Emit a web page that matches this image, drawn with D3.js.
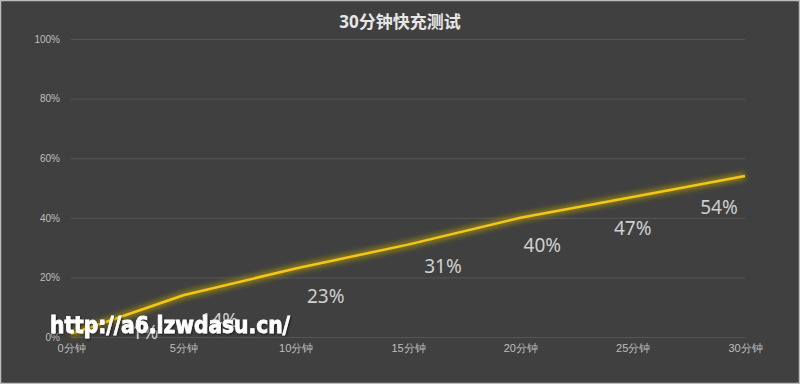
<!DOCTYPE html>
<html>
  <head>
    <meta charset="utf-8" />
    <style>
      body {
        margin: 0;
        background: #404040;
      }
      svg {
        display: block;
        font-family: "Noto Sans", "Noto Sans CJK SC", sans-serif;
      }
      .grid line {
        stroke: #555555;
        stroke-width: 1;
      }
      .grid .domain {
        display: none;
      }
      .y .tick text {
        font-size: 10px;
        fill: #bfbfbf;
      }
      .x .tick text {
        font-size: 11px;
        fill: #bfbfbf;
      }
      .x .domain,
      .y .domain,
      .x .tick line,
      .y .tick line {
        display: none;
      }
      .title {
        font-size: 17px;
        font-weight: bold;
        fill: #e6e6e6;
      }
      .label {
        font-size: 19px;
        fill: #cfcfcf;
      }
      .watermark {
        font-family: "DejaVu Sans", sans-serif;
        font-size: 23px;
        font-weight: bold;
        fill: #ffffff;
      }
    </style>
  </head>
  <body>
    <svg width="800" height="384"></svg>

    <script src="https://d3js.org/d3.v7.min.js"></script>
    <script>
      // data
      let minutes = ["0分钟", "5分钟", "10分钟", "15分钟", "20分钟", "25分钟", "30分钟"];
      let charge = [1, 14, 23, 31, 40, 47, 54];
      let yTicks = [0, 20, 40, 60, 80, 100];

      // the data labels are dragged around in the original, so nudge them
      let labelDx = [74, 36, 30, 35, 22, 0, -26];
      let labelDy = [5, 32, 35, 28, 34, 38, 38];

      let width = 800;
      let height = 384;
      let margin = { top: 39, right: 55, bottom: 47, left: 71 };

      let svg = d3.select("svg");

      // frame
      svg
        .append("rect")
        .attr("x", 0.5)
        .attr("y", 0.5)
        .attr("width", width - 1)
        .attr("height", height - 1)
        .attr("fill", "#404040")
        .attr("stroke", "#bdbdbd")
        .attr("stroke-width", 1.5);

      let x = d3
        .scalePoint()
        .domain(minutes)
        .range([margin.left, width - margin.right]);

      let y = d3
        .scaleLinear()
        .domain([0, 100])
        .range([height - margin.bottom, margin.top]);

      // gridlines
      svg
        .append("g")
        .attr("class", "grid")
        .attr("transform", `translate(${margin.left}, 0)`)
        .call(
          d3
            .axisLeft(y)
            .tickValues(yTicks)
            .tickSize(-(width - margin.right - margin.left))
            .tickFormat("")
        );

      svg
        .append("g")
        .attr("class", "y axis")
        .attr("transform", `translate(${margin.left}, 0)`)
        .call(
          d3
            .axisLeft(y)
            .tickValues(yTicks)
            .tickSize(0)
            .tickPadding(11)
            .tickFormat((d) => d + "%")
        );

      svg
        .append("g")
        .attr("class", "x axis")
        .attr("transform", `translate(0, ${height - margin.bottom})`)
        .call(d3.axisBottom(x).tickSize(0).tickPadding(7));

      // glow filter
      let defs = svg.append("defs");
      let filter = defs
        .append("filter")
        .attr("id", "glow")
        .attr("x", "-10%")
        .attr("y", "-50%")
        .attr("width", "120%")
        .attr("height", "200%");
      filter.append("feGaussianBlur").attr("stdDeviation", 2.5);

      let shadow = defs
        .append("filter")
        .attr("id", "shadow")
        .attr("x", "-5%")
        .attr("y", "-30%")
        .attr("width", "110%")
        .attr("height", "160%");
      shadow
        .append("feDropShadow")
        .attr("dx", 1)
        .attr("dy", 1)
        .attr("stdDeviation", 0.8)
        .attr("flood-color", "#000")
        .attr("flood-opacity", 0.6);

      let line = d3
        .line()
        .x((d, i) => x(minutes[i]))
        .y((d) => y(d));

      svg
        .append("path")
        .datum(charge)
        .attr("d", line)
        .attr("fill", "none")
        .attr("stroke", "#9a8a10")
        .attr("stroke-opacity", 0.75)
        .attr("stroke-width", 8)
        .attr("filter", "url(#glow)");

      svg
        .append("path")
        .datum(charge)
        .attr("d", line)
        .attr("fill", "none")
        .attr("stroke", "#f5c518")
        .attr("stroke-width", 2.5)
        .attr("stroke-linejoin", "round");

      // data labels
      svg
        .selectAll(".label")
        .data(charge)
        .join("text")
        .attr("class", "label")
        .attr("x", (d, i) => x(minutes[i]) + labelDx[i])
        .attr("y", (d, i) => y(d) + labelDy[i])
        .attr("text-anchor", "middle")
        .text((d) => d + "%");

      svg
        .append("text")
        .attr("class", "title")
        .attr("x", width / 2)
        .attr("y", 28)
        .attr("text-anchor", "middle")
        .text("30分钟快充测试");

      // watermark sitting on top of the picture
      svg
        .append("text")
        .attr("class", "watermark")
        .attr("x", 50)
        .attr("y", 333)
        .attr("textLength", 240)
        .attr("lengthAdjust", "spacingAndGlyphs")
        .attr("stroke", "#ffffff")
        .attr("stroke-width", 0.8)
        .attr("filter", "url(#shadow)")
        .text("http://a6.lzwdasu.cn/");
    </script>
  </body>
</html>
